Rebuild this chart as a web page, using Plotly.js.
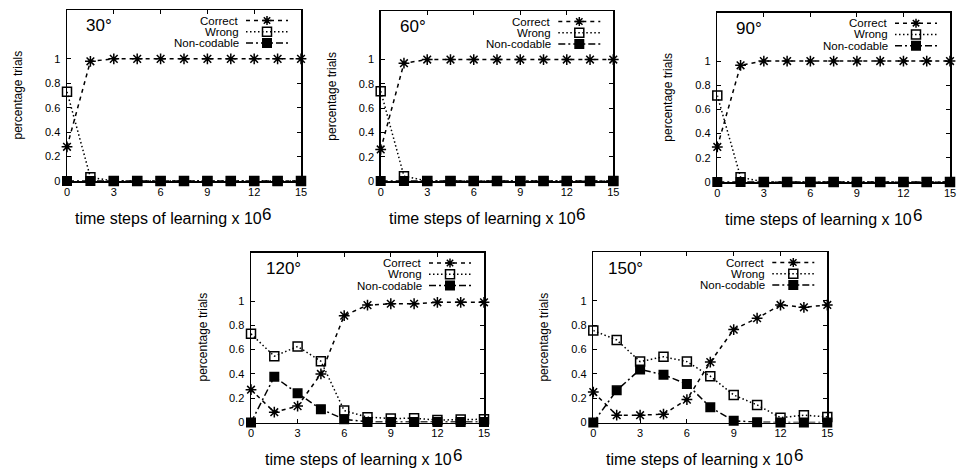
<!DOCTYPE html>
<html>
<head>
<meta charset="utf-8">
<script src="https://cdn.plot.ly/plotly-3.0.1.min.js"></script>
<style>html,body{margin:0;padding:0;background:#fff;}#chart{width:962px;height:472px;}</style>
</head>
<body>
<div id="chart"></div>
<script>
// ---- data ----
const xSteps = [0, 1.5, 3, 4.5, 6, 7.5, 9, 10.5, 12, 13.5, 15];
const xTickVals = [0, 3, 6, 9, 12, 15];
const xTickText = ['0', '3', '6', '9', '12', '15'];
const yTickVals = [0, 0.2, 0.4, 0.6, 0.8, 1];
const yTickText = ['0', '0.2', '0.4', '0.6', '0.8', '1'];
const panelLabels = ['30°', '60°', '90°', '120°', '150°'];
const seriesNames = ['Correct', 'Wrong', 'Non-codable'];
const yTitle = 'percentage trials';
const xTitle = 'time steps of learning x 10';
const xTitleExp = '6';

const correct30 = [0.28, 0.98, 1, 1, 1, 1, 1, 1, 1, 1, 1];
const wrong30   = [0.73, 0.03, 0, 0, 0, 0, 0, 0, 0, 0, 0];
const noncod30  = [0, 0, 0, 0, 0, 0, 0, 0, 0, 0, 0];

const correct60 = [0.26, 0.97, 1, 1, 1, 1, 1, 1, 1, 1, 1];
const wrong60   = [0.74, 0.04, 0, 0, 0, 0, 0, 0, 0, 0, 0];
const noncod60  = [0, 0, 0, 0, 0, 0, 0, 0, 0, 0, 0];

const correct90 = [0.29, 0.965, 1, 1, 1, 1, 1, 1, 1, 1, 1];
const wrong90   = [0.715, 0.04, 0, 0, 0, 0, 0, 0, 0, 0, 0];
const noncod90  = [0, 0, 0, 0, 0, 0, 0, 0, 0, 0, 0];

const correct120 = [0.27, 0.085, 0.135, 0.40, 0.88, 0.967, 0.978, 0.978, 0.99, 0.99, 0.99];
const wrong120   = [0.73, 0.546, 0.626, 0.505, 0.098, 0.044, 0.033, 0.035, 0.02, 0.025, 0.027];
const noncod120  = [0, 0.377, 0.24, 0.11, 0.027, 0.005, 0.005, 0.005, 0.005, 0.005, 0.005];

const correct150 = [0.25, 0.06, 0.06, 0.068, 0.188, 0.496, 0.763, 0.856, 0.965, 0.946, 0.965];
const wrong150   = [0.755, 0.678, 0.50, 0.54, 0.50, 0.38, 0.226, 0.144, 0.04, 0.06, 0.046];
const noncod150  = [0, 0.264, 0.436, 0.392, 0.316, 0.125, 0.014, 0.003, 0, 0, 0];

const panelSeries = [
  [correct30, wrong30, noncod30],
  [correct60, wrong60, noncod60],
  [correct90, wrong90, noncod90],
  [correct120, wrong120, noncod120],
  [correct150, wrong150, noncod150]
];

// ---- layout geometry (pixels: left, right, top, bottom) ----
const W = 962, H = 472;
const boxes = [
  [67, 301, 10, 181],
  [380.7, 613.3, 11, 181],
  [717.3, 950, 12.7, 182],
  [251, 484, 252.5, 422.5],
  [593.3, 827.3, 252, 422.5]
];
const xTitleOffset = [5.5, 6, 5.5, 12, 11];
const PX = v => v / W;
const PY = v => 1 - v / H;

const FONT = 'Liberation Sans, Arial, sans-serif';
const XT_SIZE = 16;
// measure the x-title width so the exponent sits right after it
const ctx = document.createElement('canvas').getContext('2d');
ctx.font = XT_SIZE + 'px "Liberation Sans", Arial, sans-serif';
const xTitleW = ctx.measureText(xTitle).width;

const styles = [
  {dash: '4px,4px', symbol: 'asterisk-open', size: 9},
  {dash: '1.5px,2.5px', symbol: 'square-open', size: 9},
  {dash: '7px,3px,2px,3px', symbol: 'square', size: 8.5}
];

const traces = [];
const layout = {
  width: W, height: H,
  margin: {l: 0, r: 0, t: 0, b: 0},
  paper_bgcolor: 'white', plot_bgcolor: 'white',
  showlegend: false,
  font: {family: FONT, color: 'black', size: 11},
  annotations: [], shapes: []
};

panelSeries.forEach((series, p) => {
  const k = p === 0 ? '' : String(p + 1);
  const [l, r, t, b] = boxes[p];
  series.forEach((vals, s) => {
    const st = styles[s];
    traces.push({
      x: xSteps, y: vals, name: seriesNames[s],
      xaxis: 'x' + k, yaxis: 'y' + k,
      type: 'scatter', mode: 'lines+markers', cliponaxis: false,
      line: {color: 'black', width: 1.5, dash: st.dash},
      marker: {symbol: st.symbol, size: st.size, color: 'black',
               line: {color: 'black', width: 1.5}}
    });
  });
  layout['xaxis' + k] = {
    domain: [PX(l), PX(r)], range: [0, 15], anchor: 'y' + k,
    tickmode: 'array', tickvals: xTickVals, ticktext: xTickText,
    ticks: 'inside', ticklen: 4, tickwidth: 1, tickcolor: 'black',
    showline: true, linewidth: 1.5, linecolor: 'black', mirror: 'ticks',
    showgrid: false, zeroline: false, fixedrange: true,
    tickfont: {size: 11, color: 'black', family: FONT}
  };
  layout['yaxis' + k] = {
    domain: [PY(b), PY(t)], range: [0, 1.4], anchor: 'x' + k,
    tickmode: 'array', tickvals: yTickVals, ticktext: yTickText,
    ticks: 'inside', ticklen: 4, tickwidth: 1, tickcolor: 'black',
    showline: true, linewidth: 1.5, linecolor: 'black', mirror: 'ticks',
    showgrid: false, zeroline: false, fixedrange: true,
    ticklabelstandoff: 3,
    tickfont: {size: 11, color: 'black', family: FONT}
  };
  const A = layout.annotations, S = layout.shapes;
  A.push({xref: 'paper', yref: 'paper', x: PX(l + 32), y: PY(t + 16),
          xanchor: 'center', yanchor: 'middle', showarrow: false,
          text: panelLabels[p], font: {size: 17}});
  A.push({xref: 'paper', yref: 'paper', x: PX(l - 49), y: PY((t + b) / 2),
          xanchor: 'center', yanchor: 'middle', showarrow: false, textangle: -90,
          text: yTitle, font: {size: 12}});
  const xo = xTitleOffset[p];
  A.push({xref: 'paper', yref: 'paper', x: PX(l + xo), y: PY(b + 37),
          xanchor: 'left', yanchor: 'middle', showarrow: false,
          text: xTitle, font: {size: XT_SIZE}});
  A.push({xref: 'paper', yref: 'paper', x: PX(l + xo + xTitleW + 1), y: PY(b + 33),
          xanchor: 'left', yanchor: 'middle', showarrow: false,
          text: xTitleExp, font: {size: 17}});
  seriesNames.forEach((nm, s) => {
    const st = styles[s];
    const ry = t + 10.5 + 11.3 * s;
    A.push({xref: 'paper', yref: 'paper', x: PX(r - 60.5), y: PY(ry),
            xanchor: 'right', yanchor: 'middle', showarrow: false,
            text: nm, font: {size: 11.5}});
    S.push({type: 'line', xref: 'paper', yref: 'paper',
            x0: PX(r - 55), x1: PX(r - 13), y0: PY(ry), y1: PY(ry),
            line: {color: 'black', width: 1.5, dash: st.dash}});
    const mx = PX(r - 34), my = PY(ry);
    if (s === 0) {
      S.push({type: 'path', xref: 'paper', yref: 'paper',
              xsizemode: 'pixel', ysizemode: 'pixel', xanchor: mx, yanchor: my,
              path: 'M-4.5,0L4.5,0M0,-4.5L0,4.5M-3.2,-3.2L3.2,3.2M-3.2,3.2L3.2,-3.2',
              line: {color: 'black', width: 1.5}});
    } else {
      const h = s === 1 ? 4.5 : 4.25;
      S.push({type: 'rect', xref: 'paper', yref: 'paper',
              xsizemode: 'pixel', ysizemode: 'pixel', xanchor: mx, yanchor: my,
              x0: -h, x1: h, y0: -h, y1: h,
              fillcolor: s === 2 ? 'black' : 'rgba(0,0,0,0)',
              line: {color: 'black', width: 1.5}});
    }
  });
});

Plotly.newPlot('chart', traces, layout, {staticPlot: true, displayModeBar: false});
</script>
</body>
</html>
